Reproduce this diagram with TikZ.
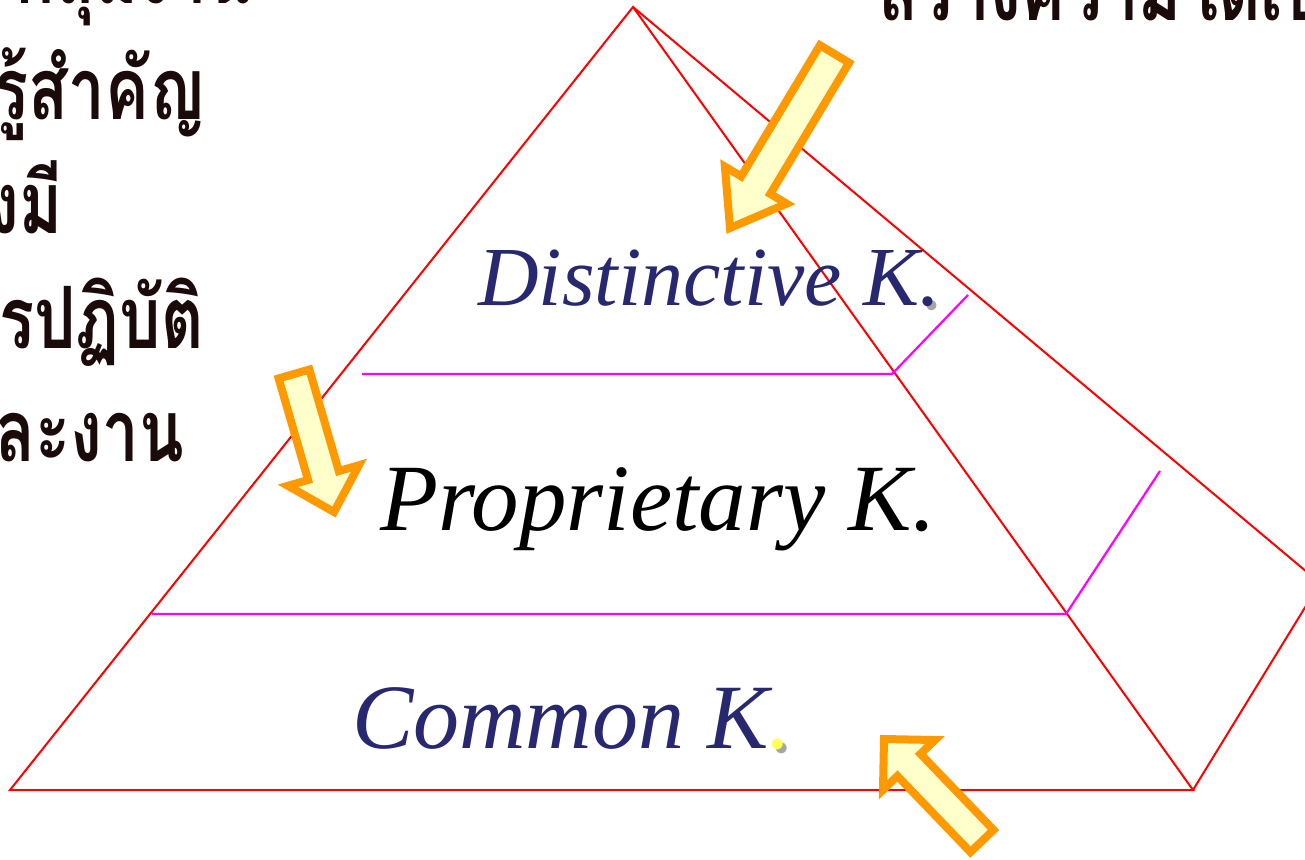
\documentclass[tikz,border=0pt]{standalone}
\usepackage{fontspec}
\setmainfont{Liberation Serif}
\newfontfamily\thaifont[Script=Thai,FakeStretch=0.76]{Loma}
\usetikzlibrary{calc}
\definecolor{navy}{RGB}{40,40,112}
\definecolor{arroworange}{RGB}{255,153,0}
\definecolor{arrowfill}{RGB}{255,255,204}
\definecolor{thaiblack}{RGB}{26,10,10}
\definecolor{dotyellow}{RGB}{255,255,90}
\definecolor{tiermagenta}{RGB}{255,0,255}
\newcommand\shdot[1]{\rlap{\kern4pt\raisebox{-4pt}{\color{black!35}.}}{\color{#1}.}}
\newcommand\blkarrow[5]{%
  \coordinate (bt) at #1; \coordinate (bp) at #2;
  \coordinate (bm) at ($(bp)!#5!(bt)$);
  \draw[blockarrow] ($(bt)!#3!90:(bp)$) -- ($(bm)!#3!-90:(bt)$) -- ($(bm)!#4!-90:(bt)$) -- (bp)
    -- ($(bm)!#4!90:(bt)$) -- ($(bm)!#3!90:(bt)$) -- ($(bt)!#3!-90:(bp)$) -- cycle;}
\tikzset{
  edge/.style={draw=red, line width=2pt},
  tier/.style={draw=tiermagenta, line width=2.2pt},
  blockarrow/.style={draw=arroworange, fill=arrowfill, line width=8pt, line join=miter},
  klabel/.style={anchor=base west, inner sep=0pt},
  thaitext/.style={inner sep=0pt, text=thaiblack, font=\thaifont\bfseries\fontsize{86}{90}\selectfont},
}
\begin{document}
\begin{tikzpicture}[x=1pt,y=-1pt]
\useasboundingbox (0,0) rectangle (1305,859);
\clip (0,0) rectangle (1305,859);
% pyramid
\coordinate (A) at (633,7);
\coordinate (BL) at (10,790);
\coordinate (BR) at (1193,790);
\coordinate (BK) at (1320,583);
\draw[edge] (BL) -- (A) -- (BR) -- cycle;
\draw[edge] (A) -- (BK) -- (BR);
% tiers
\coordinate (t1a) at (362,374); \coordinate (t1b) at (892,374); \coordinate (t1c) at (968,295);
\coordinate (t2a) at (152,614); \coordinate (t2b) at (1066,614); \coordinate (t2c) at (1160,471);
\draw[tier] (t1a) -- (t1b) -- (t1c);
\draw[tier] (t2a) -- (t2b) -- (t2c);
% labels
\node[klabel, text=navy, font=\itshape\fontsize{84}{84}\selectfont] (dk) at (478,305) {Distinctive K\shdot{navy}};
\node[klabel, text=black, font=\itshape\fontsize{95}{95}\selectfont] (pk) at (380,530) {Proprietary K.};
\node[klabel, text=navy, font=\itshape\fontsize{92}{92}\selectfont] (ck) at (352,748) {Common K\shdot{dotyellow}};
% arrows
\blkarrow{(834.5,54)}{(730,228)}{17pt}{36pt}{50pt}
\blkarrow{(294,374)}{(334,512)}{16pt}{37pt}{38pt}
\blkarrow{(982,841)}{(884,739)}{16pt}{36pt}{36pt}
% Thai text
\node[thaitext, anchor=base east] (l1) at (252,4) {เฉพาะกลุ่มงาน};
\node[thaitext, anchor=base east] (l2) at (205,119) {ความรู้สำคัญ};
\node[thaitext, anchor=base east] (l3) at (63,233) {ที่ต้องมี};
\node[thaitext, anchor=base east] (l4) at (204,348) {ในการปฏิบัติ};
\node[thaitext, anchor=base east] (l5) at (184,461) {แต่ละงาน};
\node[thaitext, anchor=base west] (tr) at (878,21) {สร้างความได้เปรียบ};
\end{tikzpicture}
\end{document}
